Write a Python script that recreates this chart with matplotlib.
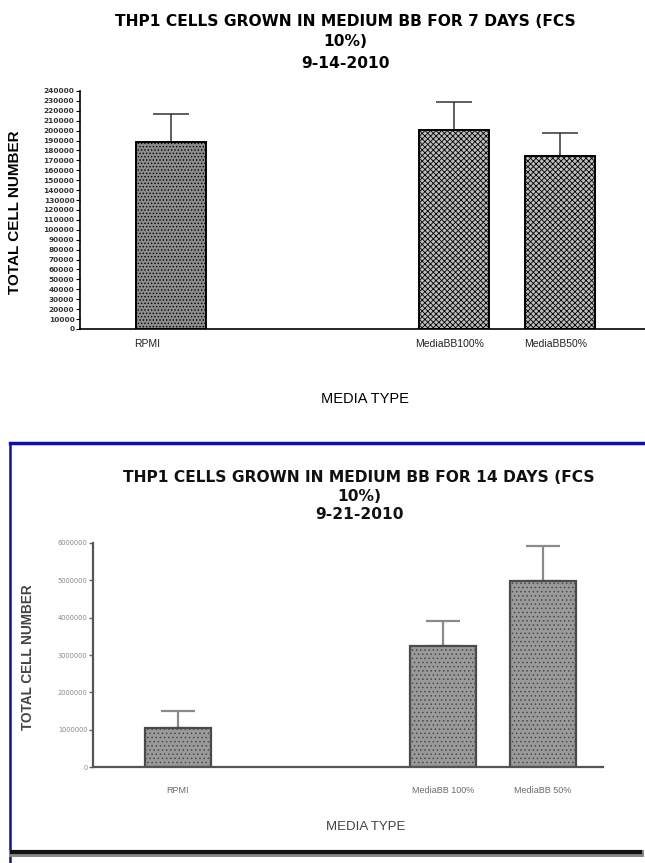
import numpy as np
import matplotlib
matplotlib.use('Agg')
import matplotlib.pyplot as plt
from matplotlib.lines import Line2D

plt.rcParams['hatch.linewidth'] = 0.6
LAB = ['Liberation Sans', 'DejaVu Sans']

# 7 day experiment (9-14-2010)
media_7 = ['RPMI', 'MediaBB100%', 'MediaBB50%']
cells_7 = [189000, 201000, 174000]
err_7 = [28000, 28000, 24000]

# 14 day experiment (9-21-2010)
media_14 = ['RPMI', 'MediaBB 100%', 'MediaBB 50%']
cells_14 = [1050000, 3230000, 4980000]
err_14 = [450000, 680000, 930000]

pos = np.array([0, 4, 5.5])

fig = plt.figure(figsize=(6.45, 8.63), dpi=100)

# ---- top chart ----
ax1 = fig.add_axes([0.124, 0.6188, 0.876, 0.2758])
ax1.bar(pos[:1], cells_7[:1], width=1.0, color='#8c8c8c', edgecolor='black',
        linewidth=1.4, hatch='.....', zorder=2)
ax1.bar(pos[1:], cells_7[1:], width=1.0, color='#bdbdbd', edgecolor='black',
        linewidth=1.4, hatch='xxxxxx', zorder=2)
ax1.errorbar(pos, cells_7, yerr=[np.zeros(3), err_7], fmt='none',
             ecolor='#333333', elinewidth=1.1, capsize=13, capthick=1.1, zorder=1)
ax1.set_xlim(-1.286, 6.70)
ax1.set_ylim(0, 240000)
ax1.set_yticks(np.arange(0, 240001, 10000))
ax1.set_yticklabels([str(v) for v in range(0, 240001, 10000)],
                    fontsize=5.3, fontweight='bold', color='#333333')
ax1.tick_params(axis='y', length=3, width=0.8, pad=1)
ax1.set_xticks(pos + np.array([-0.33, -0.06, -0.06]))
ax1.set_xticklabels(media_7, fontsize=7.5, color='#222222', family=LAB)
ax1.tick_params(axis='x', length=0, pad=7)
for s in ['top', 'right']:
    ax1.spines[s].set_visible(False)
for s in ['left', 'bottom']:
    ax1.spines[s].set_linewidth(1.2)
ax1.set_ylabel('TOTAL CELL NUMBER', fontsize=11, fontweight='bold', family=LAB)
ax1.yaxis.set_label_coords(-0.102, 0.49)
ax1.set_xlabel('MEDIA TYPE', fontsize=10.5, family=LAB, fontweight='medium')
ax1.xaxis.set_label_coords(0.505, -0.265)

fig.text(0.535, 1 - 42 / 863, 'THP1 CELLS GROWN IN MEDIUM BB FOR 7 DAYS (FCS\n10%)\n9-14-2010',
         ha='center', va='center', fontsize=11.2, fontweight='heavy',
         linespacing=1.5)

# ---- bottom chart ----
ax2 = fig.add_axes([0.1442, 0.1112, 0.79, 0.2596])
ax2.bar(pos, cells_14, width=0.99, color='#9a9a9a', edgecolor='#4a4a4a',
        linewidth=1.6, hatch='....', zorder=2)
ax2.errorbar(pos, cells_14, yerr=[np.zeros(3), err_14], fmt='none',
             ecolor='#8a8a8a', elinewidth=1.6, capsize=12, capthick=1.6, zorder=1)
ax2.set_xlim(-1.278, 6.4)
ax2.set_ylim(0, 6000000)
ax2.set_yticks(np.arange(0, 6000001, 1000000))
ax2.set_yticklabels([str(v) for v in range(0, 6000001, 1000000)],
                    fontsize=4.8, color='#888888')
ax2.tick_params(axis='y', length=3, width=1, color='#666666', pad=1)
ax2.set_xticks(pos)
ax2.set_xticklabels(media_14, fontsize=6.5, color='#6a6a6a', family=LAB)
ax2.tick_params(axis='x', length=0, pad=14)
for s in ['top', 'right']:
    ax2.spines[s].set_visible(False)
for s in ['left', 'bottom']:
    ax2.spines[s].set_linewidth(1.6)
    ax2.spines[s].set_color('#555555')
ax2.set_ylabel('TOTAL CELL NUMBER', fontsize=9.8, fontweight='bold',
               family=LAB, color='#444444')
ax2.yaxis.set_label_coords(-0.114, 0.49)
ax2.set_xlabel('MEDIA TYPE', fontsize=9.5, family=LAB, color='#444444')
ax2.xaxis.set_label_coords(0.535, -0.24)

fig.text(0.557, 1 - 496 / 863, 'THP1 CELLS GROWN IN MEDIUM BB FOR 14 DAYS (FCS\n10%)\n9-21-2010',
         ha='center', va='center', fontsize=11.2, fontweight='heavy',
         linespacing=1.3, color='#111111')

# blue frame around the second chart and the black rule under it
fig.add_artist(Line2D([10 / 645, 1], [1 - 443 / 863] * 2, color='#1010a0', lw=2.5))
fig.add_artist(Line2D([10 / 645] * 2, [0, 1 - 443 / 863], color='#1010a0', lw=1.8))
fig.add_artist(Line2D([12 / 645, 640 / 645], [1 - 853 / 863] * 2, color='#888888', lw=5))
fig.add_artist(Line2D([12 / 645, 640 / 645], [1 - 852 / 863] * 2, color='#111111', lw=3))

fig.savefig('out.png', dpi=100)
